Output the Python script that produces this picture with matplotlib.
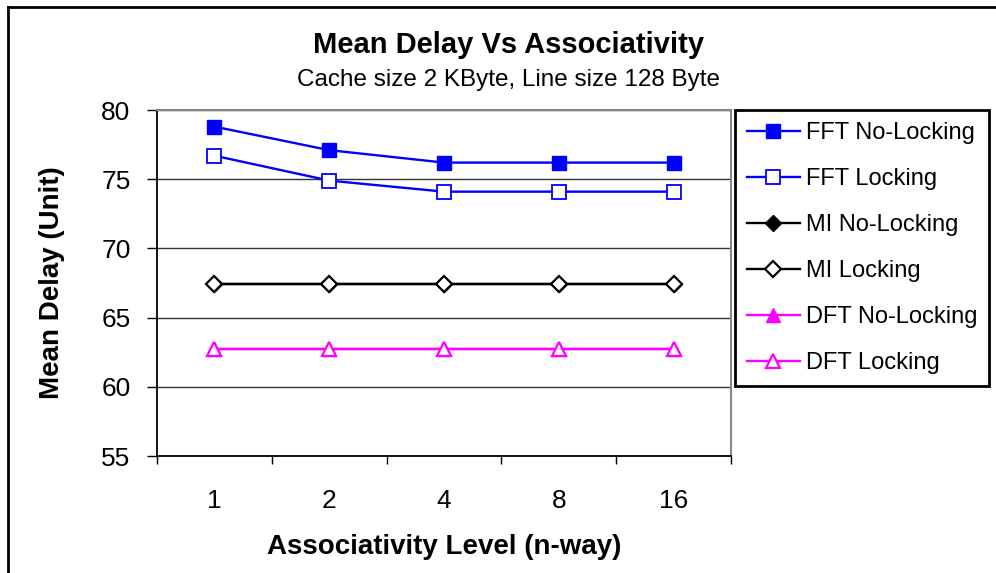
import matplotlib
matplotlib.use("Agg")
import matplotlib.pyplot as plt
from matplotlib.lines import Line2D

plt.rcParams['font.family'] = ['Liberation Sans', 'DejaVu Sans']

categories = ["1", "2", "4", "8", "16"]
fft_no_locking = [78.8, 77.1, 76.2, 76.2, 76.2]
fft_locking = [76.7, 74.9, 74.1, 74.1, 74.1]
mi_no_locking = [67.4, 67.4, 67.4, 67.4, 67.4]
mi_locking = [67.4, 67.4, 67.4, 67.4, 67.4]
dft_no_locking = [62.7, 62.7, 62.7, 62.7, 62.7]
dft_locking = [62.7, 62.7, 62.7, 62.7, 62.7]
y_ticks = [55, 60, 65, 70, 75, 80]

fig = plt.figure(figsize=(9.96, 5.73), dpi=100)
ax = fig.add_axes([157/996, 1-456/573, (731-157)/996, (456-110)/573])

x = list(range(len(categories)))
blue = '#0000FF'
mag = '#FF00FF'
lw = 1.7
ms = 9.5
ax.plot(x, fft_no_locking, color=blue, lw=lw, marker='s', ms=ms, mfc=blue, mec=blue, label='FFT No-Locking', zorder=5)
ax.plot(x, fft_locking, color=blue, lw=lw, marker='s', ms=ms, mfc='white', mec=blue, mew=1.3, label='FFT Locking', zorder=5)
ax.plot(x, mi_no_locking, color='black', lw=lw, marker='D', ms=8.5, mfc='black', mec='black', label='MI No-Locking', zorder=5)
ax.plot(x, mi_locking, color='black', lw=lw, marker='D', ms=8.5, mfc='white', mec='black', mew=1.6, label='MI Locking', zorder=6)
ax.plot(x, dft_no_locking, color=mag, lw=lw, marker='^', ms=10, mfc=mag, mec=mag, label='DFT No-Locking', zorder=5)
ax.plot(x, dft_locking, color=mag, lw=lw, marker='^', ms=10, mfc='white', mec=mag, mew=1.6, label='DFT Locking', zorder=6)

ax.set_xlim(-0.5, len(categories) - 0.5)
ax.set_ylim(55, 80)
ax.set_yticks(y_ticks)
ax.set_xticks(x)
ax.set_xticklabels(categories)
ax.set_xticks([i - 0.5 for i in range(len(categories) + 1)], minor=True)
ax.tick_params(axis='x', which='major', length=0, labelsize=19, pad=24)
ax.tick_params(axis='x', which='minor', length=6, width=1, direction='out', color='black')
ax.tick_params(axis='y', which='major', length=7, width=1, direction='out', labelsize=19, pad=12)
ax.yaxis.grid(True, color='#333333', lw=1)
ax.set_axisbelow(True)
for s in ['left', 'bottom']:
    ax.spines[s].set_color('black')
    ax.spines[s].set_linewidth(1.3)
for s in ['top', 'right']:
    ax.spines[s].set_color('#888888')
    ax.spines[s].set_linewidth(1.5)

ax.set_ylabel('Mean Delay (Unit)', fontsize=20, fontweight='bold', labelpad=26)
ax.set_xlabel('Associativity Level (n-way)', fontsize=20, fontweight='bold', labelpad=15)

fig.text(509/996, 1-45/573, 'Mean Delay Vs Associativity', fontsize=21, fontweight='bold', ha='center', va='center')
fig.text(508/996, 1-80/573, 'Cache size 2 KByte, Line size 128 Byte', fontsize=17.5, ha='center', va='center')

leg = fig.legend(loc='upper left', bbox_to_anchor=(735/996, 1-110/573), fontsize=17,
                 frameon=True, fancybox=False, edgecolor='black', framealpha=1,
                 handlelength=2.25, labelspacing=1.02, handletextpad=0.25,
                 borderpad=0.5, borderaxespad=0)
leg.get_frame().set_linewidth(2)

fig.add_artist(Line2D([8/996, 8/996], [0, 1-7/573], color='black', lw=2, transform=fig.transFigure))
fig.add_artist(Line2D([8/996, 1], [1-7/573, 1-7/573], color='black', lw=2, transform=fig.transFigure))

fig.savefig('out.png', dpi=100, facecolor='white')
